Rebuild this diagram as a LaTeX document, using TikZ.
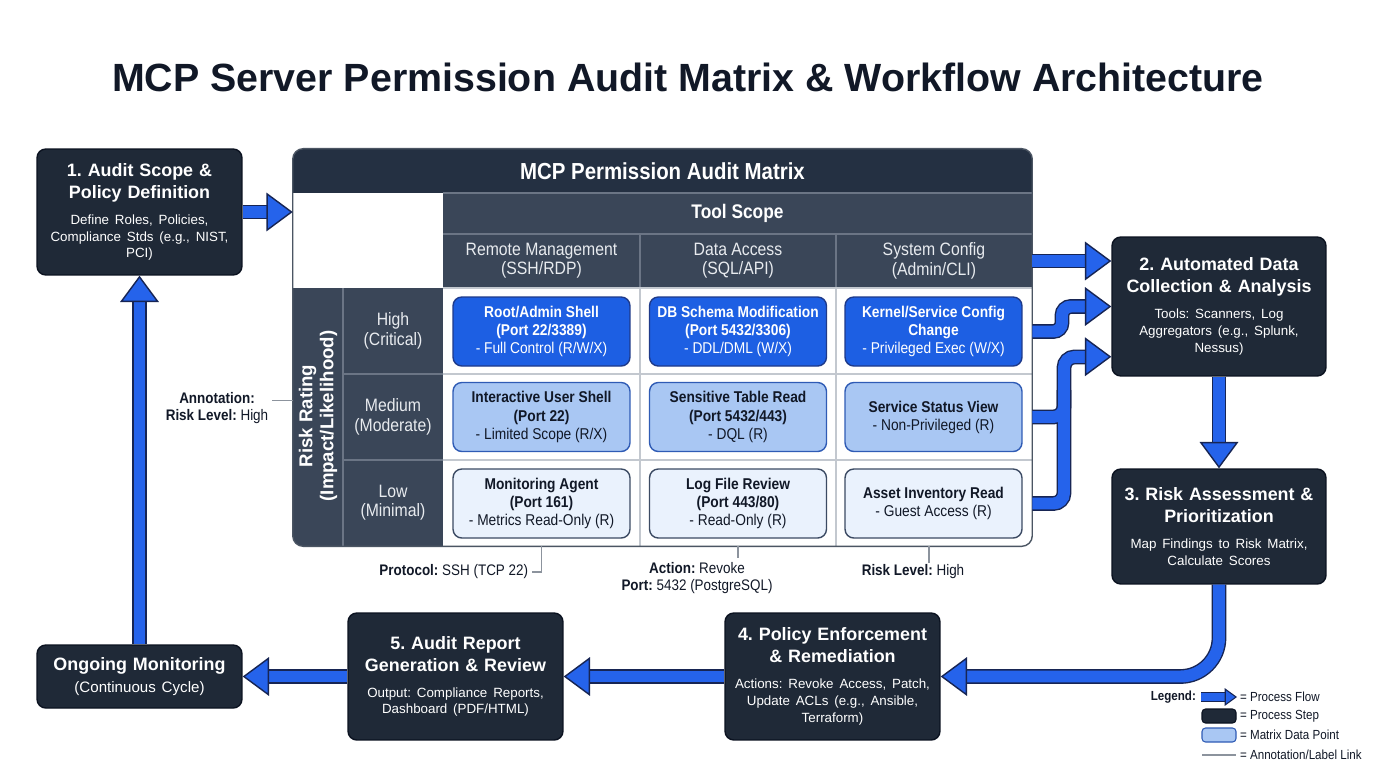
\documentclass[tikz,border=0pt]{standalone}
\usepackage{fontspec}
\setmainfont{Liberation Sans}
\newfontfamily\condfont{Liberation Sans}[FakeStretch=0.88]
\usetikzlibrary{arrows.meta,calc,positioning}

\definecolor{ink}{HTML}{111827}
\definecolor{stagefill}{HTML}{1F2937}
\definecolor{stageedge}{HTML}{0B1220}
\definecolor{mathead}{HTML}{243042}
\definecolor{matgray}{HTML}{3A4658}
\definecolor{matrule}{HTML}{6B7585}
\definecolor{gridline}{HTML}{C3C8CF}
\definecolor{matedge}{HTML}{4B5563}
\definecolor{headtext}{HTML}{E8EBEF}
\definecolor{flowblue}{HTML}{2563EB}
\definecolor{flowline}{HTML}{172554}
\definecolor{hifill}{HTML}{1D5FE3}
\definecolor{hiedge}{HTML}{1E3A8A}
\definecolor{medfill}{HTML}{A9C7F3}
\definecolor{mededge}{HTML}{2F5BB5}
\definecolor{lowfill}{HTML}{EAF2FD}
\definecolor{lowedge}{HTML}{3B4A63}
\definecolor{annoline}{HTML}{8C939D}

\tikzset{
  headline/.style={font=\fontsize{22.4}{26}\selectfont\bfseries, text=ink},
  stage/.style={draw=stageedge, fill=stagefill, rounded corners=5pt, line width=0.8pt,
    text=white, align=center, inner sep=0pt, text width=3.9cm},
  cell/.style={rounded corners=5pt, minimum width=3.54cm, minimum height=1.38cm,
    align=center, inner sep=0pt, line width=0.8pt, font=\condfont\fontsize{8.9}{10.3}\selectfont},
  cellhi/.style={cell, draw=hiedge, fill=hifill, text=white},
  cellmed/.style={cell, draw=mededge, fill=medfill, text=ink},
  celllow/.style={cell, draw=lowedge, fill=lowfill, text=ink},
  colhead/.style={align=center, text=headtext, font=\condfont\fontsize{10.2}{11}\selectfont},
  flow/.style={line width=6.8pt, flowblue, preaction={draw=flowline, line width=8.4pt}},
  flowtip/.style={draw=flowblue, line width=0.8pt,
    -{Triangle[width=22pt, length=15pt, fill=flowblue, color=flowline]}},
  anno/.style={text=ink, inner sep=2pt, font=\condfont\fontsize{8.7}{10}\selectfont},
  annolink/.style={draw=annoline, line width=0.6pt},
  legendtxt/.style={text=ink, inner sep=1pt, font=\condfont\fontsize{7.5}{9}\selectfont},
}

\newcommand{\stagehead}[1]{{\fontsize{10.2}{12.6}\selectfont\bfseries #1\par}}
\newcommand{\stagenote}[1]{{\vspace{5pt}\fontsize{7.6}{9.6}\selectfont #1\par}}

\begin{document}
\frenchspacing
\begin{tikzpicture}[x=0.02cm, y=-0.02cm]
\useasboundingbox (0,0) rectangle (1376,768);
\fill[white] (0,0) rectangle (1376,768);

% title
\node[headline] (title) at (688,77) {MCP Server Permission Audit Matrix \& Workflow Architecture};

% process stages
\node[stage, minimum width=4.1cm, minimum height=2.52cm] (scope) at (139.5,212)
  {\stagehead{1. Audit Scope \&\\Policy Definition}\stagenote{Define Roles, Policies,\\Compliance Stds (e.g., NIST,\\PCI)}};
\node[stage, minimum width=4.28cm, minimum height=2.78cm, text width=4.1cm] (collect) at (1219,306.5)
  {\stagehead{2. Automated Data\\Collection \& Analysis}\stagenote{Tools: Scanners, Log\\Aggregators (e.g., Splunk,\\Nessus)}};
\node[stage, minimum width=4.28cm, minimum height=2.3cm, text width=4.1cm] (assess) at (1219,526.5)
  {\stagehead{3. Risk Assessment \&\\Prioritization}\stagenote{Map Findings to Risk Matrix,\\Calculate Scores}};
\node[stage, minimum width=4.3cm, minimum height=2.54cm, text width=4.1cm] (enforce) at (832.5,676.5)
  {\stagehead{4. Policy Enforcement\\\& Remediation}\stagenote{Actions: Revoke Access, Patch,\\Update ACLs (e.g., Ansible,\\Terraform)}};
\node[stage, minimum width=4.3cm, minimum height=2.54cm, text width=4.1cm] (report) at (455.5,676.5)
  {\stagehead{5. Audit Report\\Generation \& Review}\stagenote{Output: Compliance Reports,\\Dashboard (PDF/HTML)}};
\node[stage, minimum width=4.1cm, minimum height=1.26cm] (monitor) at (139.5,676.5)
  {\stagehead{Ongoing Monitoring}{\vspace{2.3pt}\fontsize{8.6}{10}\selectfont (Continuous Cycle)\par}};

% permission matrix
\node[inner sep=0pt, minimum width=14.78cm, minimum height=7.94cm] (audit) at (662.5,347.5) {};
\begin{scope}
  \clip[rounded corners=6pt] (audit.north west) rectangle (audit.south east);
  \fill[white] (293,149) rectangle (1032,546);
  \fill[mathead] (293,149) rectangle (1032,193);
  \fill[matgray] (443,193) rectangle (1032,288);
  \fill[matgray] (293,288) rectangle (443,546);
\end{scope}
\draw[matrule, line width=0.6pt] (443,193) -- (1032,193) (443,234) -- (1032,234)
  (640,234) -- (640,288) (836,234) -- (836,288)
  (343,288) -- (343,546) (343,374) -- (443,374) (343,460) -- (443,460);
\draw[gridline, line width=0.6pt] (443,288) -- (1032,288) (640,288) -- (640,546) (836,288) -- (836,546)
  (443,374) -- (1032,374) (443,460) -- (1032,460);
\draw[matedge, line width=0.8pt, rounded corners=6pt] (audit.north west) rectangle (audit.south east);

\node[text=white, font=\condfont\fontsize{13.2}{15}\selectfont\bfseries] (mathdr) at (662.5,171) {MCP Permission Audit Matrix};
\node[text=white, font=\condfont\fontsize{11.2}{13}\selectfont\bfseries] (toolscope) at (737.5,213.5) {Tool Scope};
\node[colhead, minimum width=3.92cm] (col1) at (541.5,261) {Remote Management\\(SSH/RDP)};
\node[colhead, minimum width=3.92cm] (col2) at (738,261) {Data Access\\(SQL/API)};
\node[colhead, minimum width=3.92cm] (col3) at (934,261) {System Config\\(Admin/CLI)};
\node[colhead] (rowhi) at (393,331) {High\\(Critical)};
\node[colhead] (rowmed) at (393,417) {Medium\\(Moderate)};
\node[colhead] (rowlow) at (393,503) {Low\\(Minimal)};
\node[rotate=90, align=center, text=white, font=\fontsize{10.6}{12}\selectfont\bfseries] (risk) at (318,416)
  {Risk Rating\\(Impact/Likelihood)};

\node[cellhi] (c11) at (541.5,331.5) {\textbf{Root/Admin Shell}\\\textbf{(Port 22/3389)}\\- Full Control (R/W/X)};
\node[cellhi] (c12) at (738,331.5) {\textbf{DB Schema Modification}\\\textbf{(Port 5432/3306)}\\- DDL/DML (W/X)};
\node[cellhi] (c13) at (933.5,331.5) {\textbf{Kernel/Service Config}\\\textbf{Change}\\- Privileged Exec (W/X)};
\node[cellmed] (c21) at (541.5,417) {\textbf{Interactive User Shell}\\\textbf{(Port 22)}\\- Limited Scope (R/X)};
\node[cellmed] (c22) at (738,417) {\textbf{Sensitive Table Read}\\\textbf{(Port 5432/443)}\\- DQL (R)};
\node[cellmed] (c23) at (933.5,417) {\textbf{Service Status View}\\- Non-Privileged (R)};
\node[celllow] (c31) at (541.5,503.5) {\textbf{Monitoring Agent}\\\textbf{(Port 161)}\\- Metrics Read-Only (R)};
\node[celllow] (c32) at (738,503.5) {\textbf{Log File Review}\\\textbf{(Port 443/80)}\\- Read-Only (R)};
\node[celllow] (c33) at (933.5,503.5) {\textbf{Asset Inventory Read}\\- Guest Access (R)};

% annotations
\node[anno, align=center] (annorisk) at (217,408) {\textbf{Annotation:}\\\textbf{Risk Level:} High};
\node[anno, anchor=east] (annoproto) at (532,572) {\textbf{Protocol:} SSH (TCP 22)};
\node[anno, align=center] (annoact) at (697,578) {\textbf{Action:} Revoke\\\textbf{Port:} 5432 (PostgreSQL)};
\node[anno] (annolvl) at (913,572) {\textbf{Risk Level:} High};
\draw[annolink] ([yshift=4.5pt]annorisk.east) -- ([yshift=4.5pt]annorisk.east -| audit.west);
\draw[annolink] (c31.south |- audit.south) |- (annoproto.east);
\draw[annolink] (c32.south |- audit.south) -- (c32.south |- annoact.north);
\draw[annolink] (929,546) -- (929,563);

% process flow
\draw[flow, shorten >=14pt] (scope.east) -- (scope.east -| audit.west);
\draw[flowtip] ($(scope.east -| audit.west)+(-16pt,0)$) -- (scope.east -| audit.west);
\draw[flow, shorten >=14pt] (col3.east) -- (col3.east -| collect.west);
\draw[flowtip] ($(col3.east -| collect.west)+(-16pt,0)$) -- (col3.east -| collect.west);
\draw[flow, rounded corners=5pt, shorten >=14pt] (audit.east |- c13.east) -- (1062,331.5) -- (1062,306.5) -- (collect.west);
\draw[flowtip] ($(collect.west)+(-16pt,0)$) -- (collect.west);
\draw[flowline, line width=8.4pt, rounded corners=6pt] (audit.east |- c23.east) -- (1064,417) -- (1064,390);
\draw[flow, rounded corners=6pt, shorten >=14pt] (audit.east |- c33.east) -- (1064,503.5) -- (1064,357) -- ([yshift=-28.6pt]collect.west);
\draw[flowblue, line width=6.8pt, rounded corners=6pt] (audit.east |- c23.east) -- (1064,417) -- (1064,390);
\draw[flowtip] ($([yshift=-28.6pt]collect.west)+(-16pt,0)$) -- ([yshift=-28.6pt]collect.west);
\draw[flow, shorten >=14pt] (collect.south) -- (assess.north);
\draw[flowtip] ($(assess.north)+(0,16pt)$) -- (assess.north);
\draw[flow, rounded corners=22pt, shorten >=14pt] (assess.south) |- (enforce.east);
\draw[flowtip] ($(enforce.east)+(16pt,0)$) -- (enforce.east);
\draw[flow, shorten >=14pt] (enforce.west) -- (report.east);
\draw[flowtip] ($(report.east)+(16pt,0)$) -- (report.east);
\draw[flow, shorten >=14pt] (report.west) -- (monitor.east);
\draw[flowtip] ($(monitor.east)+(16pt,0)$) -- (monitor.east);
\draw[flow, shorten >=14pt] (monitor.north) -- (scope.south);
\draw[flowtip] ($(scope.south)+(0,-16pt)$) -- (scope.south);

% legend
\node[legendtxt, anchor=east] (legend) at (1198,697) {\textbf{Legend:}};
\draw[line width=4pt, flowblue, preaction={draw=flowline, line width=5.2pt}] (1201,697) -- (1225,697);
\draw[draw=flowblue, line width=0.6pt, -{Triangle[width=10pt, length=7pt, fill=flowblue, color=flowline]}] (1223,697) -- (1237,697);
\draw[draw=stageedge, fill=stagefill, rounded corners=2pt, line width=0.6pt] (1202,709) rectangle (1236,723);
\draw[draw=mededge, fill=medfill, rounded corners=2pt, line width=0.6pt] (1202,728) rectangle (1236,742);
\draw[annolink, line width=0.8pt] (1202,755) -- (1236,755);
\node[legendtxt, anchor=west] (lgflow) at (1238,697) {= Process Flow};
\node[legendtxt, anchor=west] (lgstep) at (1238,716) {= Process Step};
\node[legendtxt, anchor=west] (lgcell) at (1238,735) {= Matrix Data Point};
\node[legendtxt, anchor=west] (lglink) at (1238,755) {= Annotation/Label Link};
\end{tikzpicture}
\end{document}
